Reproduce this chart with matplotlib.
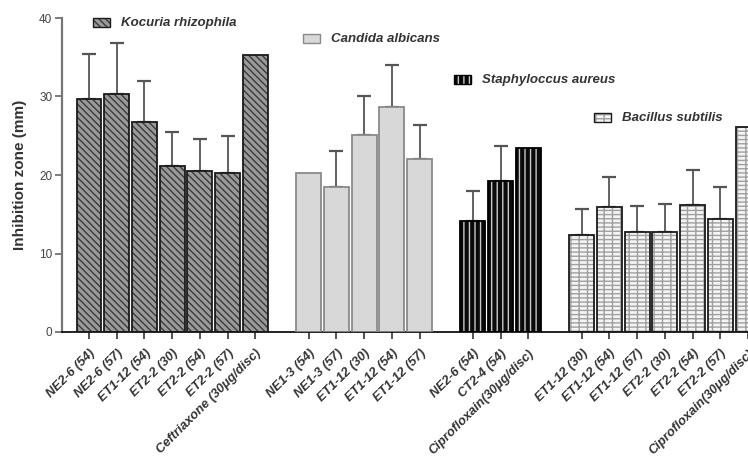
import matplotlib
matplotlib.use("Agg")
import matplotlib.pyplot as plt
from matplotlib.patches import Rectangle
import numpy as np

plt.rcParams['font.family'] = ['Liberation Sans', 'DejaVu Sans']

# ---- data ----
kocuria_labels = ["NE2-6 (54)", "NE2-6 (57)", "ET1-12 (54)", "ET2-2 (30)", "ET2-2 (54)",
                  "ET2-2 (57)", "Ceftriaxone (30\u03bcg/disc)"]
kocuria_means = [29.7, 30.3, 26.7, 21.2, 20.5, 20.3, 35.3]
kocuria_sd = [5.7, 6.5, 5.3, 4.3, 4.1, 4.7, 0]

candida_labels = ["NE1-3 (54)", "NE1-3 (57)", "ET1-12 (30)", "ET1-12 (54)", "ET1-12 (57)"]
candida_means = [20.3, 18.5, 25.1, 28.7, 22.1]
candida_sd = [0, 4.6, 4.9, 5.3, 4.3]

staph_labels = ["NE2-6 (54)", "CT2-4 (54)", "Ciprofloxain(30\u03bcg/disc)"]
staph_means = [14.1, 19.2, 23.4]
staph_sd = [3.8, 4.5, 0]

bacillus_labels = ["ET1-12 (30)", "ET1-12 (54)", "ET1-12 (57)", "ET2-2 (30)", "ET2-2 (54)",
                   "ET2-2 (57)", "Ciprofloxain(30\u03bcg/disc)"]
bacillus_means = [12.3, 15.9, 12.7, 12.7, 16.2, 14.4, 26.1]
bacillus_sd = [3.4, 3.9, 3.4, 3.6, 4.4, 4.1, 0]

series_names = ["Kocuria rhizophila", "Candida albicans", "Staphyloccus aureus", "Bacillus subtilis"]

# ---- styles ----
styles = [
    dict(face="#9a9a9a", hatch="\\\\\\\\\\", hcol="#3a3a3a", edge="#1a1a1a"),
    dict(face="#d8d8d8", hatch="", hcol="#d8d8d8", edge="#8a8a8a"),
    dict(face="#0a0a0a", hatch="|||", hcol="#c8c8c8", edge="#000000"),
    dict(face="#f4f4f4", hatch="----||", hcol="#a0a0a0", edge="#1a1a1a"),
]
groups = [
    (kocuria_labels, kocuria_means, kocuria_sd),
    (candida_labels, candida_means, candida_sd),
    (staph_labels, staph_means, staph_sd),
    (bacillus_labels, bacillus_means, bacillus_sd),
]

W, H = 748, 461
fig = plt.figure(figsize=(W / 100, H / 100), dpi=100)
ax = fig.add_axes([62 / W, 1 - 332 / H, (W - 62) / W, (332 - 18) / H])

plt.rcParams['hatch.linewidth'] = 1.0
gap = 1.92
bar_w = 0.9
start = 0.0
all_pos, all_labels = [], []
for (labels, means, sd), st in zip(groups, styles):
    pos = start + np.arange(len(labels))
    # hatch fill
    ax.bar(pos, means, width=bar_w, color=st["face"], edgecolor=st["hcol"],
           hatch=st["hatch"], linewidth=0, zorder=2)
    # outline
    ax.bar(pos, means, width=bar_w, fill=False, edgecolor=st["edge"], linewidth=1.3, zorder=3)
    sd = np.array(sd, dtype=float)
    m = sd > 0
    ax.errorbar(pos[m], np.array(means)[m], yerr=[np.zeros(m.sum()), sd[m]], fmt="none",
                ecolor="#555555", elinewidth=1.3, capsize=4.8, capthick=1.6, zorder=1)
    all_pos.extend(pos)
    all_labels.extend(labels)
    start = pos[-1] + gap

ax.set_xlim(-0.973, 23.75)
ax.set_ylim(0, 40)
ax.set_yticks([0, 10, 20, 30, 40])
ax.set_xticks(all_pos)
ax.set_xticklabels(all_labels, rotation=45, ha="right", va="top", rotation_mode="anchor",
                   fontsize=9.3, fontweight="bold", fontstyle="italic", color="#333333")
ax.tick_params(axis="x", length=5, width=1.2, color="#333333", pad=6)
ax.tick_params(axis="y", length=5, width=1.2, color="#666666", labelsize=8.5,
               labelcolor="#444444", pad=2)
for s in ["top", "right"]:
    ax.spines[s].set_visible(False)
ax.spines["left"].set_color("#777777")
ax.spines["left"].set_linewidth(1.6)
ax.spines["bottom"].set_color("#111111")
ax.spines["bottom"].set_linewidth(1.3)
ax.set_ylabel("Inhibition zone (mm)", fontsize=11, fontweight="bold", color="#333333", labelpad=9)

# legends (figure coords)
leg_pos = [(93, 23), (303, 39), (454, 80), (594, 118)]
for (px, py), name, st in zip(leg_pos, series_names, styles):
    rw, rh = 17, 9
    fig.patches.append(Rectangle((px / W, 1 - (py + rh / 2) / H), rw / W, rh / H,
                                 transform=fig.transFigure, facecolor=st["face"],
                                 edgecolor=st["hcol"], hatch=st["hatch"], linewidth=0))
    fig.patches.append(Rectangle((px / W, 1 - (py + rh / 2) / H), rw / W, rh / H,
                                 transform=fig.transFigure, fill=False,
                                 edgecolor=st["edge"], linewidth=1.0))
    fig.text((px + 28) / W, 1 - py / H, name, fontsize=9.5, fontweight="bold",
             fontstyle="italic", color="#333333", va="center", ha="left")

fig.savefig("out.png", dpi=100)
